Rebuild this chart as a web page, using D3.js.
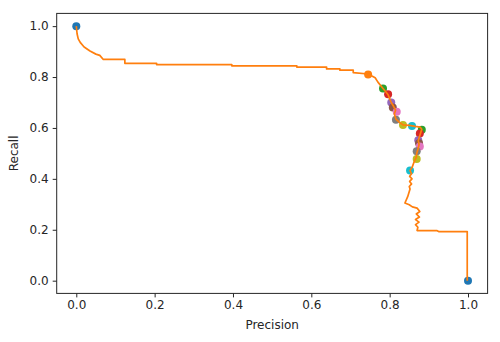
<!DOCTYPE html>
<html><head><meta charset="utf-8">
<script src="https://cdn.jsdelivr.net/npm/d3@7"></script>
<style>body{margin:0;background:#fff}svg{display:block}text{font-family:"DejaVu Sans",sans-serif;fill:#262626}</style>
</head><body><div id="chart"></div>
<script>
// PR curve: precision (x) and recall (y)
const curvePrecision = [0.000,0.002,0.005,0.010,0.020,0.035,0.050,0.060,0.069,0.124,0.124,0.205,0.205,0.397,0.397,0.563,0.563,0.639,0.639,0.673,0.673,0.707,0.707,0.745,0.763,0.770,0.783,0.790,0.796,0.800,0.804,0.810,0.815,0.812,0.816,0.825,0.834,0.850,0.865,0.878,0.882,0.879,0.876,0.873,0.875,0.872,0.869,0.868,0.862,0.858,0.852,0.856,0.851,0.857,0.851,0.856,0.850,0.852,0.846,0.839,0.850,0.858,0.870,0.877,0.868,0.876,0.866,0.875,0.866,0.872,0.870,0.920,0.925,0.998,0.998];
const curveRecall    = [1.000,0.970,0.950,0.936,0.918,0.902,0.890,0.885,0.869,0.869,0.854,0.854,0.849,0.849,0.844,0.844,0.839,0.839,0.832,0.832,0.827,0.827,0.817,0.812,0.797,0.780,0.755,0.742,0.730,0.715,0.700,0.685,0.670,0.655,0.635,0.622,0.612,0.610,0.606,0.603,0.595,0.580,0.565,0.550,0.535,0.515,0.500,0.485,0.465,0.448,0.432,0.420,0.410,0.400,0.390,0.380,0.370,0.360,0.330,0.305,0.298,0.290,0.285,0.272,0.262,0.250,0.240,0.230,0.220,0.210,0.197,0.197,0.193,0.193,0.000];
// threshold points
const pointPrecision = [0.000,0.745,0.783,0.796,0.804,0.808,0.818,0.816,0.834,0.857,0.882,0.877,0.873,0.875,0.877,0.869,0.869,0.852,1.000];
const pointRecall    = [1.000,0.810,0.755,0.732,0.700,0.680,0.664,0.632,0.612,0.608,0.593,0.578,0.552,0.540,0.527,0.508,0.478,0.433,0.000];
const pointColorIdx  = [0,1,2,3,4,5,6,7,8,9,2,3,4,5,6,7,8,9,0];
const xTicks = [0.0,0.2,0.4,0.6,0.8,1.0];
const yTicks = [0.0,0.2,0.4,0.6,0.8,1.0];
const tab10 = ["#1f77b4","#ff7f0e","#2ca02c","#d62728","#9467bd","#8c564b","#e377c2","#7f7f7f","#bcbd22","#17becf"];

const W=500,H=342;
const m={left:56.7,right:500-487.6,top:13.4,bottom:342-293.4};
const svg=d3.select("#chart").append("svg").attr("width",W).attr("height",H);
const x=d3.scaleLinear().domain([-0.05,1.05]).range([m.left,W-m.right]);
const y=d3.scaleLinear().domain([-0.05,1.05]).range([H-m.bottom,m.top]);

const pts=pointPrecision.map((p,i)=>({p,r:pointRecall[i],c:tab10[pointColorIdx[i]]}));
svg.append("g").selectAll("circle").data(pts).join("circle")
  .attr("cx",d=>x(d.p)).attr("cy",d=>y(d.r)).attr("r",4).attr("fill",d=>d.c);

const line=d3.line().x(d=>x(d[0])).y(d=>y(d[1]));
svg.append("path").datum(curvePrecision.map((p,i)=>[p,curveRecall[i]]))
  .attr("d",line).attr("fill","none").attr("stroke","#ff7f0e").attr("stroke-width",1.7).attr("stroke-linejoin","round");

const fmt=d3.format(".1f");
const gx=svg.append("g").attr("transform",`translate(0,${H-m.bottom})`)
  .call(d3.axisBottom(x).tickValues(xTicks).tickFormat(fmt).tickSize(4).tickPadding(3));
const gy=svg.append("g").attr("transform",`translate(${m.left},0)`)
  .call(d3.axisLeft(y).tickValues(yTicks).tickFormat(fmt).tickSize(4).tickPadding(4));
[gx,gy].forEach(g=>{g.select(".domain").remove();g.selectAll("line").attr("stroke","#262626");g.selectAll("text").attr("font-size",12).attr("font-family","DejaVu Sans").attr("fill","#262626");});
svg.append("rect").attr("x",m.left).attr("y",m.top).attr("width",W-m.left-m.right).attr("height",H-m.top-m.bottom)
  .attr("fill","none").attr("stroke","#262626").attr("stroke-width",1);
svg.append("text").attr("x",(m.left+W-m.right)/2).attr("y",329).attr("text-anchor","middle").attr("font-size",12).text("Precision");
svg.append("text").attr("transform",`translate(18,${(m.top+H-m.bottom)/2}) rotate(-90)`).attr("text-anchor","middle").attr("font-size",12).text("Recall");
</script></body></html>
